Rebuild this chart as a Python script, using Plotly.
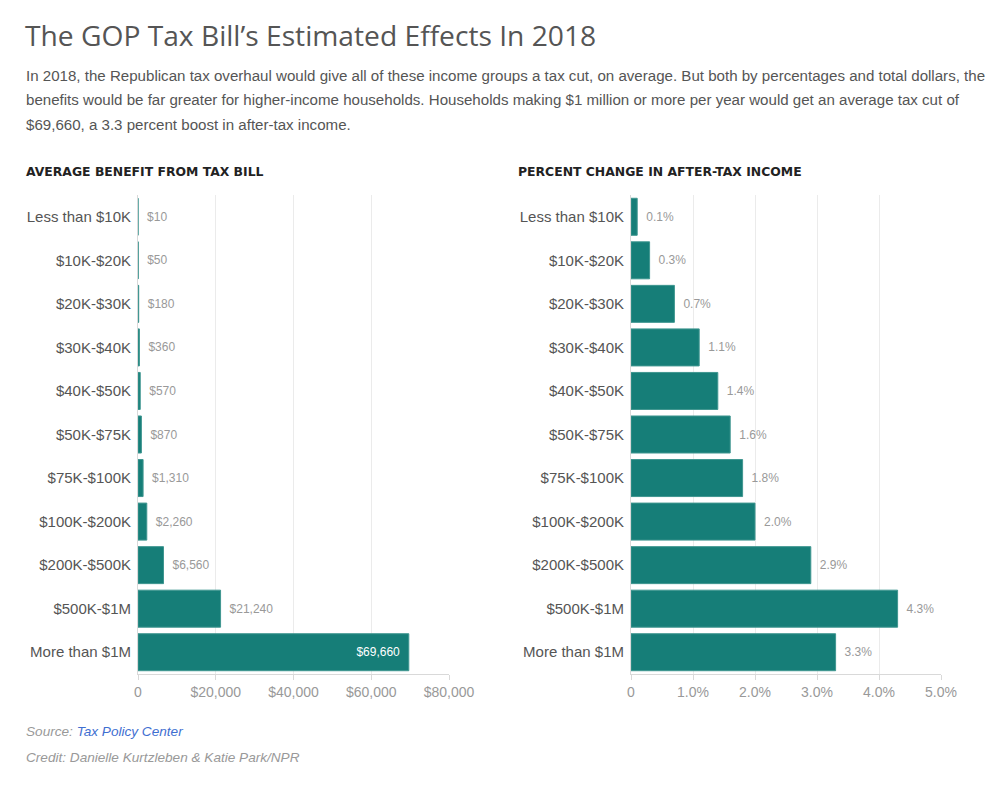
import plotly.graph_objects as go

groups = ["Less than $10K", "$10K-$20K", "$20K-$30K", "$30K-$40K", "$40K-$50K",
          "$50K-$75K", "$75K-$100K", "$100K-$200K", "$200K-$500K", "$500K-$1M",
          "More than $1M"]
benefit = [10, 50, 180, 360, 570, 870, 1310, 2260, 6560, 21240, 69660]
pct_change = [0.1, 0.3, 0.7, 1.1, 1.4, 1.6, 1.8, 2.0, 2.9, 4.3, 3.3]

benefit_ticks = [0, 20000, 40000, 60000, 80000]
benefit_ticktext = ["0", "$20,000", "$40,000", "$60,000", "$80,000"]
pct_ticks = [0, 1, 2, 3, 4, 5]
pct_ticktext = ["0", "1.0%", "2.0%", "3.0%", "4.0%", "5.0%"]

TEAL = "#167e78"
# the page puts an 8px margin round the figure, so work in window pixels
OFF = 8
W, H = 999 - OFF, 796 - OFF


def px_x(p):
    return (p - OFF) / W


def px_y(p):
    return 1 - (p - OFF) / H


PAD = "\u2002"

fig = go.Figure()

# left chart: dollars
left_text = [PAD + "${:,}".format(v) for v in benefit[:-1]] + ["${:,}".format(benefit[-1]) + PAD]
left_pos = ["outside"] * (len(benefit) - 1) + ["inside"]
left_col = ["#999999"] * (len(benefit) - 1) + ["#ffffff"]
fig.add_trace(go.Bar(
    x=benefit, y=groups, orientation="h",
    marker=dict(color=TEAL, line=dict(color="#3f9690", width=1)),
    text=left_text, textposition=left_pos,
    textfont=dict(family="Liberation Sans", size=12, color=left_col),
    insidetextanchor="end", cliponaxis=False,
    hoverinfo="skip", xaxis="x", yaxis="y",
))

# right chart: percent
fig.add_trace(go.Bar(
    x=pct_change, y=groups, orientation="h",
    marker=dict(color=TEAL, line=dict(color="#3f9690", width=1)),
    text=[PAD + "{:.1f}%".format(v) for v in pct_change], textposition="outside",
    textfont=dict(family="Liberation Sans", size=12, color="#999999"),
    cliponaxis=False, hoverinfo="skip", xaxis="x2", yaxis="y2",
))

ydom = [px_y(674), px_y(195)]
xaxis_common = dict(
    showgrid=True, gridcolor="#ebebeb", gridwidth=1, zeroline=False,
    showline=True, linecolor="#d9d9d9", linewidth=1,
    ticks="outside", ticklen=5, tickcolor="#d9d9d9",
    tickfont=dict(family="Liberation Sans", size=14, color="#999999"),
    automargin=False, fixedrange=True,
)
yaxis_common = dict(
    autorange="reversed", showgrid=False, zeroline=False,
    showline=True, linecolor="#d9d9d9", linewidth=1,
    ticks="", ticklabelstandoff=3,
    tickfont=dict(family="Liberation Sans", size=15, color="#555555"),
    domain=ydom, automargin=False, fixedrange=True,
)

fig.update_layout(
    width=W, height=H,
    margin=dict(l=0, r=0, t=0, b=0),
    paper_bgcolor="white", plot_bgcolor="white",
    showlegend=False, bargap=0.15,
    font=dict(family="Liberation Sans", color="#555555"),
    xaxis=dict(xaxis_common, domain=[px_x(138), px_x(449)], range=[0, 80000],
               tickvals=benefit_ticks, ticktext=benefit_ticktext, anchor="y"),
    yaxis=dict(yaxis_common, anchor="x"),
    xaxis2=dict(xaxis_common, domain=[px_x(631), px_x(941)], range=[0, 5],
                tickvals=pct_ticks, ticktext=pct_ticktext, anchor="y2"),
    yaxis2=dict(yaxis_common, anchor="x2"),
)

title = "The GOP Tax Bill\u2019s Estimated Effects In 2018"
subtitle_lines = [
    "In 2018, the Republican tax overhaul would give all of these income groups a tax cut, on average. But both by percentages and total dollars, the",
    "benefits would be far greater for higher-income households. Households making $1 million or more per year would get an average tax cut of",
    "$69,660, a 3.3 percent boost in after-tax income.",
]


def note(text, x, y, size, color, family="Liberation Sans"):
    fig.add_annotation(text=text, x=px_x(x), y=px_y(y), xref="paper", yref="paper",
                       xanchor="left", yanchor="middle", showarrow=False,
                       font=dict(family=family, size=size, color=color))


note(title, 23, 35, 28.2, "#555555", family="Open Sans")
for i, line in enumerate(subtitle_lines):
    note(line, 24, 75 + i * 24.5, 15.1, "#555555")
note("<b>AVERAGE BENEFIT FROM TAX BILL</b>", 24, 171, 12.4, "#222222", family="DejaVu Sans")
note("<b>PERCENT CHANGE IN AFTER-TAX INCOME</b>", 516, 171, 12.4, "#222222", family="DejaVu Sans")
note("<i>Source: <span style='color:#3f6fd1'>Tax Policy Center</span></i>", 24, 731, 13.6, "#999999")
note("<i>Credit: Danielle Kurtzleben &amp; Katie Park/NPR</i>", 24, 757, 13.6, "#999999")

fig.write_html("out.html")
